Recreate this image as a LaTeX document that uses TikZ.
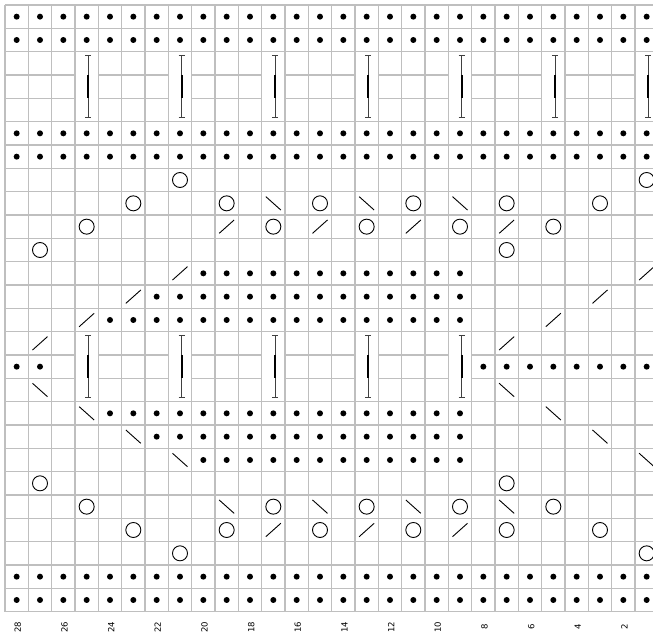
\documentclass[tikz,border=0pt]{standalone}
\usepackage{fontspec}
\setmainfont{DejaVu Sans}
\tikzset{
  gridline/.style={draw=black!25, line width=1.3pt},
  dotst/.style={fill=black},
  yo/.style={draw=black, line width=0.9pt},
  slashst/.style={draw=black, line width=0.9pt},
  barthin/.style={draw=black!75, line width=0.9pt},
  barthick/.style={draw=black, line width=2.2pt},
  lbl/.style={rotate=90, font=\fontsize{8.5}{9}\selectfont, inner sep=0pt}
}
\begin{document}
\begin{tikzpicture}[x=1pt,y=-1pt]
\useasboundingbox (0,0) rectangle (653,636);
\clip (0,0) rectangle (653,636);
\fill[white] (0,0) rectangle (653,636);
\begin{scope}[shift={(5,5)},x=23.333pt,y=-23.333pt]
  % grid
  \foreach \i in {0,...,28} \draw[gridline] (\i,0) -- (\i,26);
  \foreach \j in {0,...,26} \draw[gridline] (0,\j) -- (28,\j);
  % merged cells for bars
  \foreach \j/\list in {2/{3,7,11,15,19,23,27}, 14/{3,7,11,15,19}} {
    \foreach \i in \list {
      \fill[white] ([xshift=0.8pt,yshift=-0.8pt]\i,\j) rectangle ([xshift=-0.8pt,yshift=0.8pt]\i+1,\j+3);
      \draw[barthin] ([xshift=1.7pt,yshift=-4pt]\i+0.5,\j) -- ([xshift=1.7pt,yshift=4.5pt]\i+0.5,\j+3);
      \draw[barthin] ([xshift=-1.3pt,yshift=-4pt]\i+0.5,\j) -- ([xshift=4.7pt,yshift=-4pt]\i+0.5,\j);
      \draw[barthin] ([xshift=-1.3pt,yshift=4.5pt]\i+0.5,\j+3) -- ([xshift=4.7pt,yshift=4.5pt]\i+0.5,\j+3);
      \draw[barthick] ([xshift=1.7pt]\i+0.5,\j+1) -- ([xshift=1.7pt]\i+0.5,\j+2);
    }
  }
  % dots (purl)
  \foreach \j/\a/\b in {0/0/27, 1/0/27, 5/0/27, 6/0/27, 11/8/19, 12/6/19, 13/4/19, 15/0/1, 15/20/27, 17/4/19, 18/6/19, 19/8/19, 24/0/27, 25/0/27}
    \foreach \i in {\a,...,\b} \fill[dotst] (\i+0.5,\j+0.5) circle[radius=3pt];
  % yarn overs
  \foreach \j/\list in {7/{7,27}, 8/{5,9,13,17,21,25}, 9/{3,11,15,19,23}, 10/{1,21}, 20/{1,21}, 21/{3,11,15,19,23}, 22/{5,9,13,17,21,25}, 23/{7,27}}
    \foreach \i in \list \draw[yo] (\i+0.5,\j+0.5) circle[radius=7.5pt];
  % rising slashes
  \foreach \j/\list in {9/{9,13,17,21}, 11/{7,27}, 12/{5,25}, 13/{3,23}, 14/{1,21}, 22/{11,15,19}}
    \foreach \i in \list \draw[slashst] ([xshift=-7.5pt,yshift=-6.7pt]\i+0.5,\j+0.5) -- ([xshift=7.5pt,yshift=6.7pt]\i+0.5,\j+0.5);
  % falling slashes
  \foreach \j/\list in {8/{11,15,19}, 16/{1,21}, 17/{3,23}, 18/{5,25}, 19/{7,27}, 21/{9,13,17,21}}
    \foreach \i in \list \draw[slashst] ([xshift=-7.5pt,yshift=6.7pt]\i+0.5,\j+0.5) -- ([xshift=7.5pt,yshift=-6.7pt]\i+0.5,\j+0.5);
  % column numbers
  \foreach \i in {0,2,...,26} {
    \pgfmathtruncatemacro\n{28-\i}
    \node[lbl] (lab\n) at (\i+0.55,26.66) {\n};
  }
\end{scope}
\end{tikzpicture}
\end{document}
